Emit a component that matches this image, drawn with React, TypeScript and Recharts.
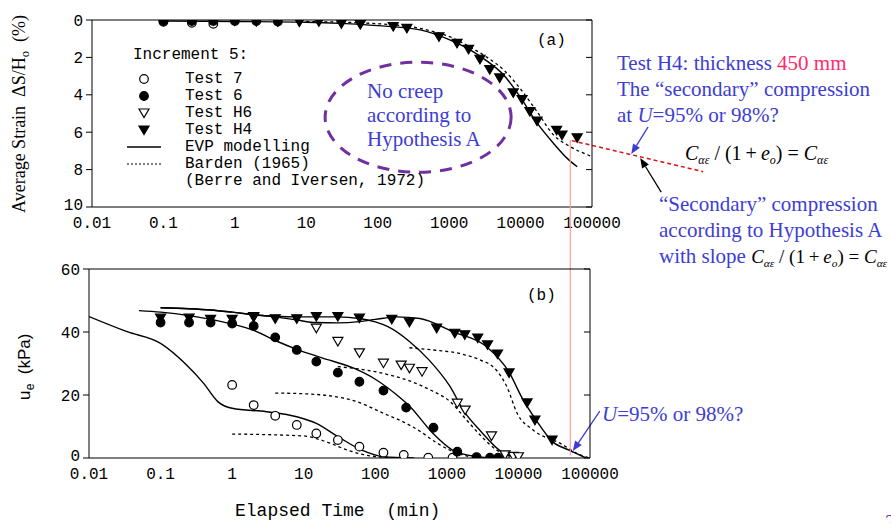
import React from "react";
import {
  ComposedChart,
  Line,
  Scatter,
  XAxis,
  YAxis,
  ReferenceLine,
  ReferenceDot,
} from "recharts";

// ticks
const X_TICKS = [0.01, 0.1, 1, 10, 100, 1000, 10000, 100000];
const STRAIN_TICKS = [0, 2, 4, 6, 8, 10];
const U_TICKS = [0, 20, 40, 60];

// (a) average strain (%) vs elapsed time (min)
const strainTest7 = [[0.1, 0.1], [0.25, 0.15], [0.5, 0.2]];
const strainTest6 = [[0.1, 0.05], [0.25, 0.05], [0.5, 0.05], [1, 0.05], [2, 0.05], [4, 0.08]];
const strainH6 = [[1, 0.05], [2, 0.08], [4, 0.1], [8, 0.1]];
const strainH4 = [
  [0.1, 0.05], [0.25, 0.05], [0.5, 0.05], [1, 0.05], [2, 0.05], [4, 0.05], [8, 0.1],
  [15, 0.1], [31, 0.2], [57, 0.25], [165, 0.35], [256, 0.45], [720, 0.9], [1290, 1.25],
  [1870, 1.57], [2700, 2.1], [3700, 2.65], [5100, 3.1], [7900, 3.9], [10500, 4.25],
  [13500, 4.9], [17000, 5.4], [32000, 5.9], [38000, 6.15], [62000, 6.3],
];
const strainEvp = [
  [0.1, 0.05], [1, 0.08], [10, 0.12], [30, 0.18], [100, 0.3], [393, 0.53], [1000, 1.05],
  [1970, 1.6], [3400, 2.2], [5800, 2.94], [9800, 4.1], [17000, 5.5], [29000, 6.6],
  [45000, 7.4], [62000, 7.85],
];
const strainBarden = [
  [10, 0.08], [100, 0.2], [393, 0.45], [1150, 0.98], [1970, 1.45], [3400, 2.0],
  [5800, 2.67], [9800, 3.65], [17000, 4.9], [29000, 6.15], [50000, 6.78], [100000, 7.3],
];

// (b) excess pore pressure u_e (kPa) vs elapsed time (min)
const ueTest7 = [
  [1, 23.2], [2, 16.8], [4, 13.4], [8, 10.5], [15, 7.8], [30, 5.7], [60, 3.6],
  [130, 1.7], [250, 1], [550, 0.1], [1200, 0.1], [8500, 0.3],
];
const ueTest6 = [
  [0.1, 43], [0.25, 43], [0.5, 43], [1, 42.7], [2, 41.9], [4, 38.3], [8, 34.3],
  [15, 30.6], [30, 27.1], [60, 24.2], [130, 21.4], [270, 16], [650, 9.6], [1400, 2],
  [2600, 0.3], [4000, 0.1], [5200, 0.1],
];
const ueH6 = [
  [2, 44.7], [15, 41.2], [30, 37], [60, 33.4], [130, 30.1], [230, 29.5], [300, 28.5],
  [450, 27.4], [1400, 17.4], [1800, 15.2], [4200, 7], [6500, 1], [8500, 0.5], [10000, 0.4],
];
const ueH4 = [
  [0.1, 44.4], [0.25, 44.4], [0.5, 44], [1, 44], [2, 44.9], [4, 44.2], [8, 44.2],
  [15, 44.9], [30, 44.9], [60, 44.4], [170, 44], [300, 43.1], [720, 41.2], [1290, 39.6],
  [1780, 39.1], [2700, 38.1], [3700, 35.9], [5100, 33], [7400, 27], [13200, 17.5],
  [17000, 12], [29500, 5.7],
];
const evpTest7 = [
  [0.01, 44.9], [0.034, 40.1], [0.1, 36.4], [0.22, 30], [0.4, 23.7], [0.63, 17.9],
  [1, 15.8], [3, 14.7], [8, 13.1], [15, 11], [30, 6.8], [65, 2.5], [130, 0.4], [350, 0],
];
const evpTest6 = [
  [0.05, 46.8], [0.1, 46.3], [0.25, 45.2], [0.5, 44], [1, 42.5], [2, 40.5], [4, 37.3],
  [8, 34.5], [18, 31.8], [50, 28.5], [100, 25], [200, 20], [300, 16.5], [640, 7.8],
  [1200, 2.5], [2500, 0.5], [5000, 0],
];
const evpH6 = [
  [0.1, 47.7], [0.25, 47.4], [0.5, 47], [1, 46.3], [2, 45.5], [4, 45], [8, 44.8],
  [15, 44.8], [30, 44.8], [60, 44.3], [100, 43.2], [150, 41.7], [300, 37], [570, 31],
  [1100, 22.8], [1750, 14.7], [3000, 8.4], [5400, 2.5], [8600, 0.3],
];
const evpH4 = [
  [0.1, 47.7], [0.25, 47.4], [0.5, 47], [1, 46.3], [2, 45.5], [4, 44.8], [8, 43.8],
  [15, 43], [30, 42.9], [60, 43.3], [100, 44], [200, 44.8], [420, 44.3], [1200, 40.1],
  [3600, 35.3], [7500, 27], [11000, 19.5], [17700, 12], [30000, 5.2], [51000, 2.5],
  [88000, 0],
];
const bardenTest7 = [[1, 7.6], [10, 7.0], [22, 4.9], [41, 2.5], [70, 1], [150, 0.2]];
const bardenTest6 = [
  [4, 20.6], [10, 20.4], [22, 19.8], [55, 17.9], [130, 14.2], [270, 11], [420, 8.5],
  [700, 5], [1100, 2.5], [2000, 0.5],
];
const bardenH6 = [
  [30, 29], [70, 28], [150, 26.5], [300, 24.5], [600, 21.5], [1100, 18], [1900, 12],
  [3000, 7], [5000, 2.5], [8600, 0.3],
];
const bardenH4 = [
  [300, 35], [700, 34.2], [1500, 33.2], [3000, 31], [4400, 29], [6900, 22.6], [9600, 14.2],
  [16000, 8.9], [38000, 4.7], [73000, 1], [100000, 0],
];

const pts = (a: number[][]) => a.map(([t, v]) => ({ t, v }));

const MONO = "'Liberation Mono', monospace";
const SERIF = "'Liberation Serif', 'Times New Roman', serif";
const BLUE = "#3d3dd4";
const tickStyle = { fill: "#000", fontSize: 16, fontFamily: MONO };

type Kind = "openCircle" | "circle" | "openTri" | "tri";

function Marker({ kind, cx, cy }: { kind: Kind; cx: number; cy: number }) {
  if (kind === "openCircle" || kind === "circle") {
    return (
      <circle cx={cx} cy={cy} r={4.3} fill={kind === "circle" ? "#000" : "#fff"} stroke="#000" strokeWidth={1.2} />
    );
  }
  const p = `${cx - 5},${cy - 4} ${cx + 5},${cy - 4} ${cx},${cy + 4.5}`;
  return <polygon points={p} fill={kind === "tri" ? "#000" : "#fff"} stroke="#000" strokeWidth={1.2} />;
}

const shapeOf = (kind: Kind) => (p: any) => <Marker kind={kind} cx={p.cx} cy={p.cy} />;

const arrowShape = (color: string) => (p: any) => {
  const { x1, y1, x2, y2 } = p;
  const a = Math.atan2(y2 - y1, x2 - x1);
  const L = 10;
  const w = 4;
  const bx = x2 - L * Math.cos(a);
  const by = y2 - L * Math.sin(a);
  const head = `${x2},${y2} ${bx + w * Math.sin(a)},${by - w * Math.cos(a)} ${bx - w * Math.sin(a)},${by + w * Math.cos(a)}`;
  return (
    <g>
      <line x1={x1} y1={y1} x2={bx} y2={by} stroke={color} strokeWidth={1.3} />
      <polygon points={head} fill={color} />
    </g>
  );
};

const ellipseShape = (p: any) => (
  <ellipse cx={p.cx} cy={p.cy} rx={93} ry={55} fill="none" stroke="#7030a0" strokeWidth={3} strokeDasharray="12 9" />
);

// y tick label; the label at the lower corner is lifted a little so it clears "0.01"
const yTick = (lowest: number) => (p: any) => {
  const { x, y, payload } = p;
  const lift = payload.value === lowest ? -3 : 0;
  return (
    <text x={x} y={y + lift} dy="0.35em" textAnchor="end" fill="#000" fontSize={16} fontFamily={MONO}>
      {payload.value}
    </text>
  );
};

function frameAxes(yDomain: number[], yTicks: number[], reversed: boolean, yWidth: number) {
  const lowest = reversed ? yDomain[1] : yDomain[0];
  return [
    <XAxis key="xb" xAxisId="x" type="number" scale="log" dataKey="t" domain={[0.01, 100000]}
      ticks={X_TICKS} allowDataOverflow tickLine={false} tickSize={4} tickMargin={6}
      tick={tickStyle} stroke="#000" height={30} tickFormatter={(v: number) => String(v)} />,
    <XAxis key="xbm" xAxisId="xbm" orientation="bottom" mirror type="number" scale="log"
      domain={[0.01, 100000]} ticks={X_TICKS} allowDataOverflow tickSize={6} axisLine={false}
      stroke="#000" tickFormatter={() => ""} />,
    <XAxis key="xt" xAxisId="xt" orientation="top" mirror type="number" scale="log"
      domain={[0.01, 100000]} ticks={X_TICKS} allowDataOverflow tickSize={6} stroke="#000"
      tickFormatter={() => ""} />,
    <YAxis key="y" yAxisId="y" type="number" dataKey="v" domain={yDomain} ticks={yTicks}
      reversed={reversed} allowDataOverflow tickSize={6} tickMargin={3} tick={yTick(lowest)}
      stroke="#000" width={yWidth} />,
    <YAxis key="yr" yAxisId="yr" orientation="right" mirror type="number" domain={yDomain}
      ticks={yTicks} reversed={reversed} allowDataOverflow tickSize={6} stroke="#000"
      tickFormatter={() => ""} />,
  ];
}

function TopChart() {
  return (
    <ComposedChart width={891} height={240} margin={{ top: 20, right: 299, bottom: 3, left: 32 }}
      style={{ position: "absolute", left: 0, top: 0 }}>
      {frameAxes([0, 10], STRAIN_TICKS, true, 60)}
      <ReferenceDot xAxisId="x" yAxisId="y" x={368} y={5.2} shape={ellipseShape} />
      <Line xAxisId="x" yAxisId="y" data={pts(strainEvp)} dataKey="v" type="monotone" stroke="#000"
        strokeWidth={1.4} dot={false} isAnimationActive={false} />
      <Line xAxisId="x" yAxisId="y" data={pts(strainBarden)} dataKey="v" type="monotone" stroke="#000"
        strokeWidth={1.3} strokeDasharray="3 3" dot={false} isAnimationActive={false} />
      <Scatter xAxisId="x" yAxisId="y" data={pts(strainTest7)} dataKey="v" shape={shapeOf("openCircle")} isAnimationActive={false} />
      <Scatter xAxisId="x" yAxisId="y" data={pts(strainTest6)} dataKey="v" shape={shapeOf("circle")} isAnimationActive={false} />
      <Scatter xAxisId="x" yAxisId="y" data={pts(strainH6)} dataKey="v" shape={shapeOf("openTri")} isAnimationActive={false} />
      <Scatter xAxisId="x" yAxisId="y" data={pts(strainH4)} dataKey="v" shape={shapeOf("tri")} isAnimationActive={false} />
      <ReferenceLine xAxisId="x" yAxisId="y" ifOverflow="visible" stroke="#d81010" strokeWidth={1.5}
        strokeDasharray="4 3" segment={[{ x: 52200, y: 6.45 }, { x: 3.6e6, y: 8.11 }]} />
      <ReferenceLine xAxisId="x" yAxisId="y" ifOverflow="visible" shape={arrowShape(BLUE)}
        segment={[{ x: 6.1e5, y: 5.72 }, { x: 3.54e5, y: 7.17 }]} />
      <ReferenceLine xAxisId="x" yAxisId="y" ifOverflow="visible" shape={arrowShape("#000")}
        segment={[{ x: 9.3e5, y: 9.2 }, { x: 4.73e5, y: 7.38 }]} />
    </ComposedChart>
  );
}

function BottomChart() {
  return (
    <ComposedChart width={891} height={523} margin={{ top: 269, right: 301, bottom: 35, left: 34 }}
      style={{ position: "absolute", left: 0, top: 0 }}>
      {frameAxes([0, 60], U_TICKS, false, 55)}
      <Line xAxisId="x" yAxisId="y" data={pts(evpTest7)} dataKey="v" type="monotone" stroke="#000" strokeWidth={1.4} dot={false} isAnimationActive={false} />
      <Line xAxisId="x" yAxisId="y" data={pts(evpTest6)} dataKey="v" type="monotone" stroke="#000" strokeWidth={1.4} dot={false} isAnimationActive={false} />
      <Line xAxisId="x" yAxisId="y" data={pts(evpH6)} dataKey="v" type="monotone" stroke="#000" strokeWidth={1.4} dot={false} isAnimationActive={false} />
      <Line xAxisId="x" yAxisId="y" data={pts(evpH4)} dataKey="v" type="monotone" stroke="#000" strokeWidth={1.4} dot={false} isAnimationActive={false} />
      <Line xAxisId="x" yAxisId="y" data={pts(bardenTest7)} dataKey="v" type="monotone" stroke="#000" strokeWidth={1.3} strokeDasharray="3 3" dot={false} isAnimationActive={false} />
      <Line xAxisId="x" yAxisId="y" data={pts(bardenTest6)} dataKey="v" type="monotone" stroke="#000" strokeWidth={1.3} strokeDasharray="3 3" dot={false} isAnimationActive={false} />
      <Line xAxisId="x" yAxisId="y" data={pts(bardenH6)} dataKey="v" type="monotone" stroke="#000" strokeWidth={1.3} strokeDasharray="3 3" dot={false} isAnimationActive={false} />
      <Line xAxisId="x" yAxisId="y" data={pts(bardenH4)} dataKey="v" type="monotone" stroke="#000" strokeWidth={1.3} strokeDasharray="3 3" dot={false} isAnimationActive={false} />
      <Scatter xAxisId="x" yAxisId="y" data={pts(ueTest7)} dataKey="v" shape={shapeOf("openCircle")} isAnimationActive={false} />
      <Scatter xAxisId="x" yAxisId="y" data={pts(ueTest6)} dataKey="v" shape={shapeOf("circle")} isAnimationActive={false} />
      <Scatter xAxisId="x" yAxisId="y" data={pts(ueH6)} dataKey="v" shape={shapeOf("openTri")} isAnimationActive={false} />
      <Scatter xAxisId="x" yAxisId="y" data={pts(ueH4)} dataKey="v" shape={shapeOf("tri")} isAnimationActive={false} />
      <ReferenceLine xAxisId="x" yAxisId="y" ifOverflow="visible" stroke="#ff9c9c" strokeWidth={1.2}
        segment={[{ x: 53000, y: 0.8 }, { x: 53000, y: 101 }]} />
      <ReferenceLine xAxisId="x" yAxisId="y" ifOverflow="visible" shape={arrowShape(BLUE)}
        segment={[{ x: 1.37e5, y: 14.9 }, { x: 57500, y: 2.2 }]} />
    </ComposedChart>
  );
}

const sub = { fontSize: "0.6em", position: "relative" as const, top: "0.35em" };

function Formula() {
  return (
    <span style={{ fontFamily: SERIF, fontStyle: "italic", whiteSpace: "nowrap" }}>
      C<span style={sub}>αε</span>
      <span style={{ fontStyle: "normal" }}>{" / (1\u2009+\u2009"}</span>e<span style={sub}>o</span>
      <span style={{ fontStyle: "normal" }}>{") = "}</span>C<span style={sub}>αε</span>
    </span>
  );
}

function LegendSym({ kind }: { kind: Kind | "solid" | "dash" | "none" }) {
  return (
    <svg width={40} height={14} style={{ display: "block" }}>
      {kind === "solid" && <line x1={2} x2={36} y1={7} y2={7} stroke="#000" strokeWidth={1.4} />}
      {kind === "dash" && <line x1={2} x2={36} y1={7} y2={7} stroke="#000" strokeWidth={1.2} strokeDasharray="2 2" />}
      {(kind === "openCircle" || kind === "circle" || kind === "openTri" || kind === "tri") && (
        <Marker kind={kind} cx={19} cy={7} />
      )}
    </svg>
  );
}

const legendRows: { kind: Kind | "solid" | "dash" | "none"; label: string }[] = [
  { kind: "openCircle", label: "Test 7" },
  { kind: "circle", label: "Test 6" },
  { kind: "openTri", label: "Test H6" },
  { kind: "tri", label: "Test H4" },
  { kind: "solid", label: "EVP modelling" },
  { kind: "dash", label: "Barden (1965)" },
  { kind: "none", label: "(Berre and Iversen, 1972)" },
];

function Legend() {
  return (
    <div style={{ position: "absolute", left: 125, top: 46, fontFamily: MONO, fontSize: 16, color: "#000" }}>
      <div style={{ marginLeft: 8, height: 24 }}>Increment 5:</div>
      {legendRows.map((r) => (
        <div key={r.label} style={{ display: "flex", alignItems: "center", height: 17 }}>
          <LegendSym kind={r.kind} />
          <span style={{ marginLeft: 20 }}>{r.label}</span>
        </div>
      ))}
    </div>
  );
}

const abs = (left: number, top: number, extra: React.CSSProperties = {}): React.CSSProperties => ({
  position: "absolute",
  left,
  top,
  whiteSpace: "nowrap",
  ...extra,
});

export default function App() {
  const blueText: React.CSSProperties = { fontFamily: SERIF, fontSize: 21, color: BLUE, lineHeight: "26px" };
  return (
    <div style={{ position: "absolute", left: 0, top: 0, width: 891, height: 523, background: "#fff", overflow: "hidden" }}>
      <TopChart />
      <BottomChart />
      <Legend />
      <div style={abs(537, 32, { fontFamily: MONO, fontSize: 16 })}>(a)</div>
      <div style={abs(527, 287, { fontFamily: MONO, fontSize: 16 })}>(b)</div>

      <div style={abs(19, 114, { transform: "translate(-50%, -50%) rotate(-90deg)", fontFamily: SERIF, fontSize: 18 })}>
        Average Strain&nbsp;&nbsp;ΔS/H<span style={{ fontSize: "0.7em", position: "relative", top: "0.3em" }}>o</span>&nbsp;&nbsp;(%)
      </div>
      <div style={abs(25, 367, { transform: "translate(-50%, -50%) rotate(-90deg)", fontSize: 17 })}>
        <span style={{ fontFamily: MONO }}>u</span>
        <span style={{ fontFamily: "'Liberation Sans', sans-serif", fontSize: 12, position: "relative", top: 4 }}>e</span>
        <span style={{ fontFamily: "'Liberation Sans', sans-serif" }}>&nbsp;&nbsp;(kPa)</span>
      </div>
      <div style={abs(235, 501, { fontFamily: MONO, fontSize: 18 })}>Elapsed Time&nbsp;&nbsp;(min)</div>

      <div style={abs(367, 79, { ...blueText, lineHeight: "24px" })}>
        No creep<br />according to<br />Hypothesis A
      </div>

      <div style={abs(617, 50, blueText)}>
        Test H4: thickness <span style={{ color: "#ff2a6d" }}>450 mm</span>
        <br />The “secondary” compression
        <br />at <i>U</i>=95% or 98%?
      </div>
      <div style={abs(685, 140, { fontSize: 20, color: "#000", lineHeight: "26px" })}>
        <Formula />
      </div>
      <div style={abs(659, 191, blueText)}>
        “Secondary” compression
        <br />according to Hypothesis A
        <br />with slope <span style={{ color: "#000", fontSize: 19 }}><Formula /></span>
      </div>
      <div style={abs(602, 401, blueText)}>
        <i>U</i>=95% or 98%?
      </div>
      <div style={abs(885, 510, { fontFamily: SERIF, fontSize: 21, color: "#7030a0" })}>2</div>
    </div>
  );
}
